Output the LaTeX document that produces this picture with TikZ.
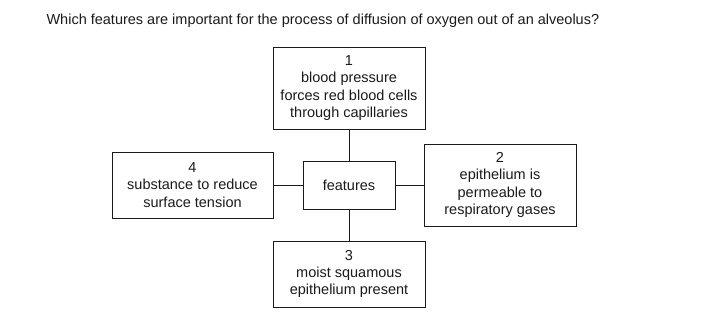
\documentclass[tikz,border=0pt]{standalone}
\usepackage{fontspec}
\setmainfont{Liberation Sans}
\usetikzlibrary{positioning}
\definecolor{Ink}{HTML}{1A1A1A}

\begin{document}
\begin{tikzpicture}[x=1pt,y=-1pt,
    every node/.style={font=\fontsize{14.5}{17.4}\selectfont,text=Ink},
    featbox/.style={draw=Ink,line width=0.9pt,align=center,inner sep=0pt,
      minimum width=152pt,minimum height=82pt},
    link/.style={draw=Ink,line width=0.9pt}]
    \useasboundingbox (0,0) rectangle (721,320);
    \node[anchor=base west] (question) at (43,25)
      {Which features are important for the process of diffusion of oxygen out of an alveolus?};

    \node[featbox,minimum width=92pt,minimum height=48pt] (hub) at (349,185)
      {features};
    \node[featbox] (f1) at (349,88)
      {1\\blood pressure\\forces red blood cells\\through capillaries};
    \node[featbox] (f2) at (500,185)
      {2\\epithelium is\\permeable to\\respiratory gases};
    \node[featbox,minimum height=66pt] (f3) at (349,274)
      {3\\moist squamous\\epithelium present};
    \node[featbox,minimum width=161pt,minimum height=66pt] (f4) at (192.5,185)
      {4\\substance to reduce\\surface tension};

    \draw[link] (hub.north) -- (f1.south);
    \draw[link] (hub.east) -- (f2.west);
    \draw[link] (hub.south) -- (f3.north);
    \draw[link] (hub.west) -- (f4.east);
  \end{tikzpicture}
\end{document}
